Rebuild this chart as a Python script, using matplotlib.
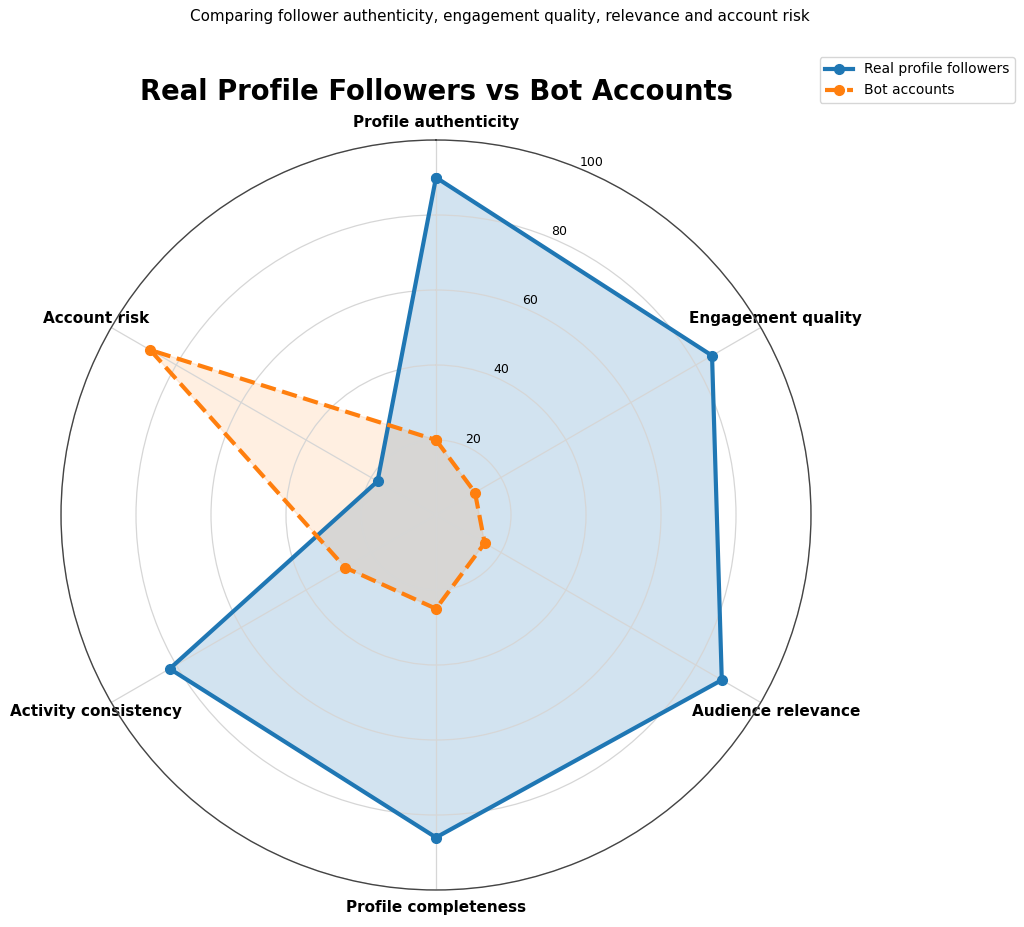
import numpy as np
import matplotlib
matplotlib.use("Agg")
import matplotlib.pyplot as plt

categories = ["Profile authenticity", "Engagement quality", "Audience relevance",
              "Profile completeness", "Activity consistency", "Account risk"]
real_values = [90, 85, 88, 86, 82, 18]
bot_values = [20, 12, 15, 25, 28, 88]
rticks = [20, 40, 60, 80, 100]
rtick_labels = ["20", "40", "60", "80", "100"]

fig = plt.figure(figsize=(10.24, 9.27), dpi=100)
ax = fig.add_axes([61/1024, 37/927, 750/1024, 750/927], projection="polar")
ax.set_theta_offset(np.pi / 2)
ax.set_theta_direction(-1)

n = len(categories)
angles = np.linspace(0, 2 * np.pi, n, endpoint=False).tolist()
ang_c = angles + angles[:1]
real_c = real_values + real_values[:1]
bot_c = bot_values + bot_values[:1]

ax.plot(ang_c, real_c, color="#1f77b4", linewidth=3, marker="o", markersize=7,
        label="Real profile followers")
ax.fill(ang_c, real_c, color="#1f77b4", alpha=0.2)
ax.plot(ang_c, bot_c, color="#ff7f0e", linewidth=3, linestyle="--", marker="o",
        markersize=7, label="Bot accounts")
ax.fill(ang_c, bot_c, color="#ff7f0e", alpha=0.12)

ax.set_xticks(angles)
ax.set_xticklabels(categories, fontsize=11, fontweight="bold")
ax.tick_params(axis="x", pad=2)
ax.set_ylim(0, 100)
ax.set_yticks(rticks)
ax.set_yticklabels(rtick_labels, fontsize=9)
ax.set_rlabel_position(22.5)
ax.grid(color="#d6d6d6", linewidth=0.9)
ax.spines["polar"].set_color("#444444")
ax.spines["polar"].set_linewidth(1.0)

ax.set_title("Real Profile Followers vs Bot Accounts", fontsize=19.8,
             fontweight="bold", pad=29)
fig.text(500/1024, 1 - 17/927, "Comparing follower authenticity, engagement quality, relevance and account risk",
         ha="center", va="center", fontsize=10.9)
fig.legend(loc="upper right", bbox_to_anchor=(1022/1024, 1 - 50/927), fontsize=10)

fig.savefig("out.png", dpi=100)
